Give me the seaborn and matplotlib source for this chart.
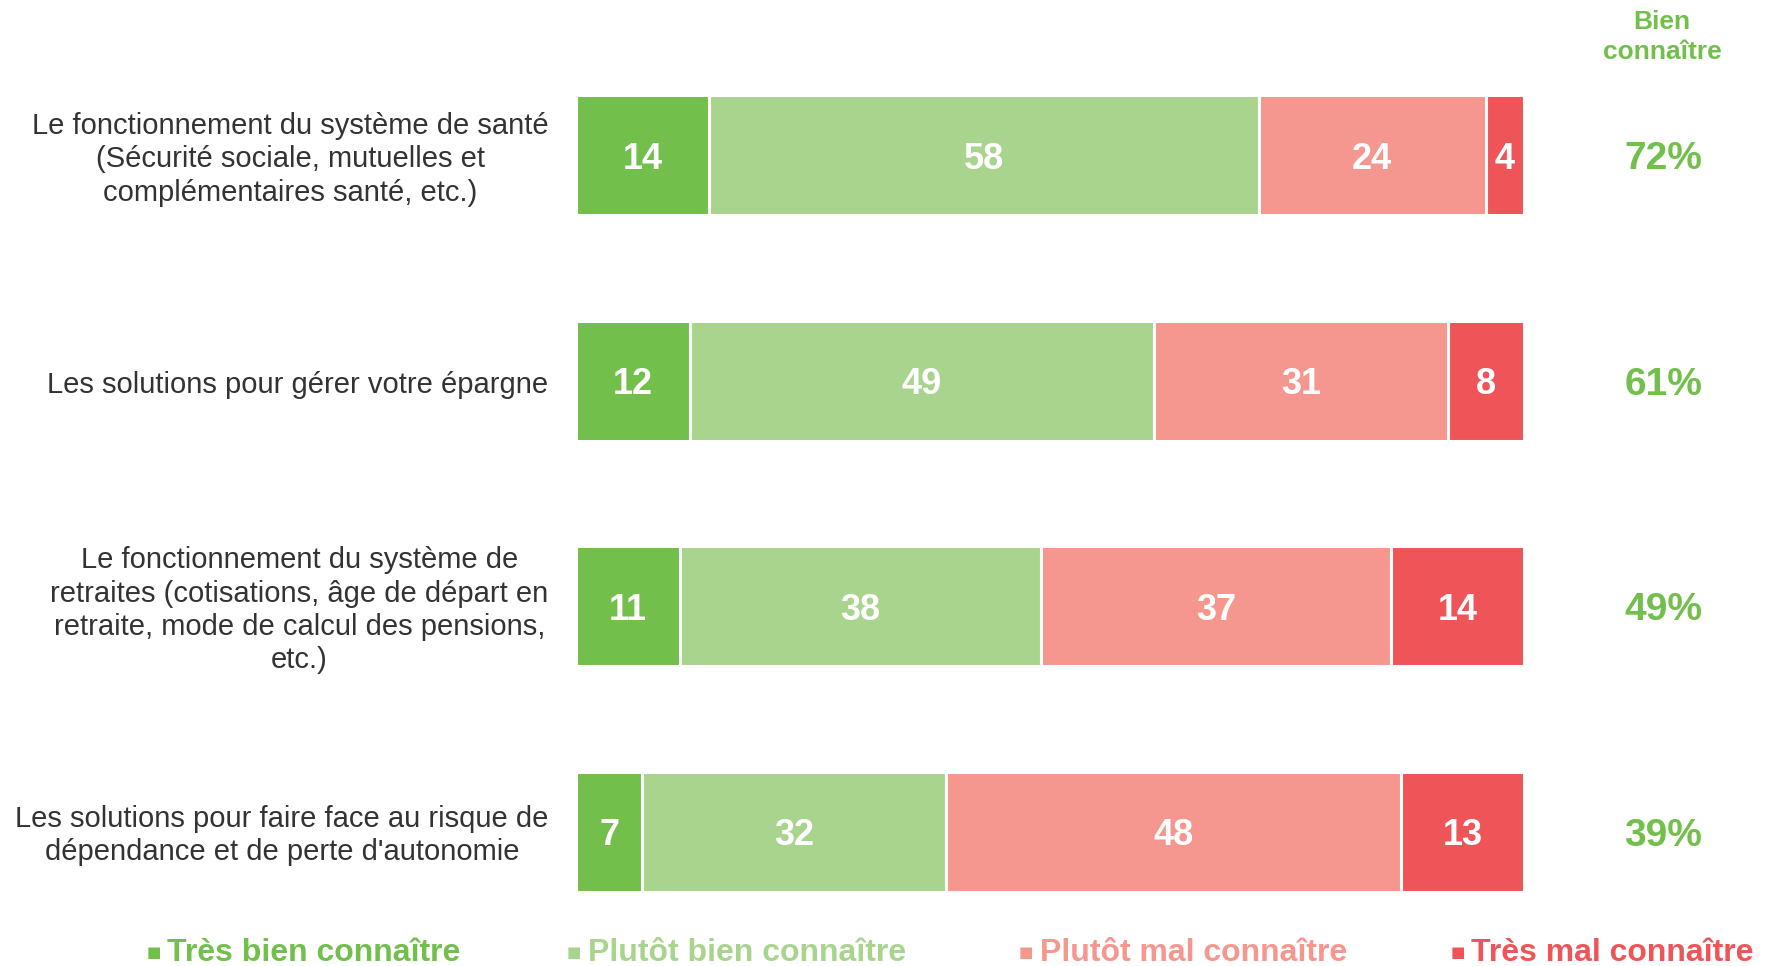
import matplotlib
matplotlib.use("Agg")

import numpy as np
import pandas as pd
import matplotlib.pyplot as plt
import matplotlib.transforms as mtransforms
import seaborn as sns

# data
items = [
    "Le fonctionnement du système de santé\n(Sécurité sociale, mutuelles et\ncomplémentaires santé, etc.)",
    "Les solutions pour gérer votre épargne",
    "Le fonctionnement du système de\nretraites (cotisations, âge de départ en\nretraite, mode de calcul des pensions,\netc.)",
    "Les solutions pour faire face au risque de\ndépendance et de perte d'autonomie",
]
tres_bien = [14, 12, 11, 7]
plutot_bien = [58, 49, 38, 32]
plutot_mal = [24, 31, 37, 48]
tres_mal = [4, 8, 14, 13]

series_names = ["Très bien connaître", "Plutôt bien connaître",
                "Plutôt mal connaître", "Très mal connaître"]
colors = ["#72BF4B", "#A9D48E", "#F5978E", "#EF5558"]

sns.set_theme(style="white")
plt.rcParams["font.family"] = ["Liberation Sans", "DejaVu Sans"]

df = pd.DataFrame({
    "item": items,
    series_names[0]: tres_bien,
    series_names[1]: plutot_bien,
    series_names[2]: plutot_mal,
    series_names[3]: tres_mal,
})
vals = df[series_names].to_numpy()
cum = vals.cumsum(axis=1)
starts = cum - vals

fig = plt.figure(figsize=(17.72, 9.66), dpi=100)
ax = fig.add_axes([576 / 1772, 21.5 / 966, 948 / 1772, 902 / 966])

# stacked bars: draw cumulative totals from the last series back to the first
for j in range(len(series_names) - 1, -1, -1):
    sns.barplot(x=cum[:, j], y=df["item"], orient="h", color=colors[j],
                saturation=1, width=0.53, edgecolor="white", linewidth=2.2, ax=ax)

# nudge text down a few pixels so glyphs sit centred like the reference
down = mtransforms.ScaledTranslation(0, -4 / 100, fig.dpi_scale_trans)
data_tr = ax.transData + down
yax_tr = ax.get_yaxis_transform() + down

for i in range(len(items)):
    for j in range(len(series_names)):
        ax.text(starts[i, j] + vals[i, j] / 2, i, str(vals[i, j]), ha="center", va="center",
                color="white", fontsize=26, fontweight="bold", transform=data_tr)
    ax.text(-0.029, i, items[i], transform=yax_tr, ha="right",
            va="center", multialignment="center", fontsize=21, color="#333333",
            linespacing=1.25)
    ax.text(1.147, i, f"{tres_bien[i] + plutot_bien[i]}%", transform=yax_tr,
            ha="center", va="center", color="#72BF4B", fontsize=28, fontweight="bold")

ax.set_xlim(0, 100)
ax.set_ylim(3.5, -0.5)
ax.set_xticks([])
ax.set_yticks([])
ax.set_xlabel("")
ax.set_ylabel("")
sns.despine(ax=ax, left=True, bottom=True)

fig.text(1662 / 1772, 1 - 37 / 966, "Bien\nconnaître", ha="center", va="center",
         color="#72BF4B", fontsize=19, fontweight="bold", linespacing=1.3)

# legend as coloured text
sq_x = [147, 567, 1019, 1451]
tx_x = [167, 588, 1040, 1471]
leg_y = 1 - 953 / 966
for k in range(len(series_names)):
    fig.text(sq_x[k] / 1772, leg_y + 0.001, "■", ha="left", va="center", color=colors[k],
             fontsize=11, family=["DejaVu Sans"])
    fig.text(tx_x[k] / 1772, leg_y, series_names[k], ha="left", va="center",
             color=colors[k], fontsize=23, fontweight="bold")

fig.savefig("out.png", dpi=100)
